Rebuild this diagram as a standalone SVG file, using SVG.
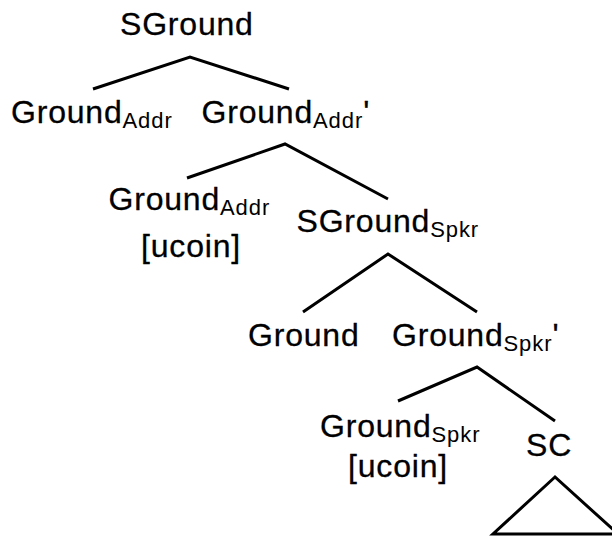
<svg xmlns="http://www.w3.org/2000/svg" width="612" height="536" viewBox="0 0 612 536">
<style>
.t{font-family:"Liberation Sans",Arial,sans-serif;font-size:32px;letter-spacing:0.8px;fill:#000;stroke:#000;stroke-width:0.3px}
.s{font-size:22px;letter-spacing:0.9px;stroke:none}
.c{fill:none;stroke:#000;stroke-width:3;stroke-linejoin:miter}
</style>
<rect width="612" height="536" fill="#fff"/>
<g id="connectors">
<polyline class="c" points="93,89 190,57 289,89"/>
<polyline class="c" points="187,178 285,144 388,199"/>
<polyline class="c" points="303,312 388,254 477,312"/>
<polyline class="c" points="398,401 477,367 555,421"/>
<polygon class="c" points="555,477 493,534 618,534"/>
</g>
<g id="n-sground"><text class="t" x="120" y="34.5">SGround</text></g>
<g id="n-ground-addr"><text class="t" x="11" y="123">Ground<tspan class="s" dy="5">Addr</tspan></text></g>
<g id="n-ground-addr-bar"><text class="t" x="201.5" y="123">Ground<tspan class="s" dy="5">Addr</tspan><tspan dy="-5">'</tspan></text></g>
<g id="n-ground-addr-ucoin"><text class="t" x="108.5" y="209.5">Ground<tspan class="s" dy="5">Addr</tspan></text><text class="t" x="191" y="257" text-anchor="middle">[ucoin]</text></g>
<g id="n-sground-spkr"><text class="t" x="296.5" y="231.7">SGround<tspan class="s" dy="5">Spkr</tspan></text></g>
<g id="n-ground"><text class="t" x="248" y="346">Ground</text></g>
<g id="n-ground-spkr-bar"><text class="t" x="392" y="346">Ground<tspan class="s" dy="5">Spkr</tspan><tspan dy="-5">'</tspan></text></g>
<g id="n-ground-spkr-ucoin"><text class="t" x="320" y="437.3">Ground<tspan class="s" dy="5">Spkr</tspan></text><text class="t" x="398" y="477" text-anchor="middle">[ucoin]</text></g>
<g id="n-sc"><text class="t" x="526" y="456">SC</text></g>
</svg>
